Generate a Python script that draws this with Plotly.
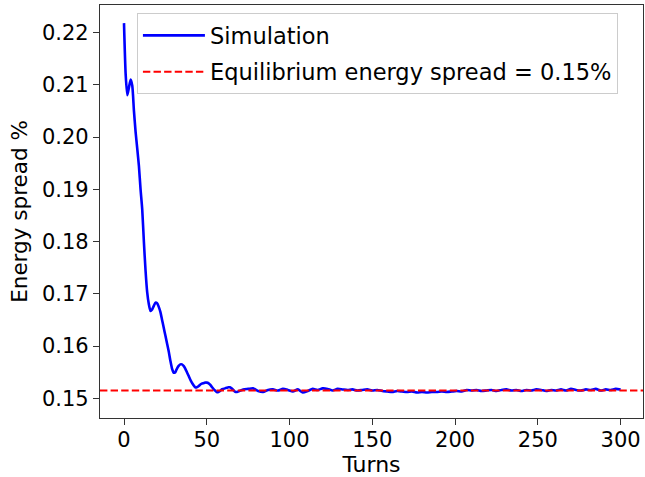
import plotly.graph_objects as go

# Simulation data (turns, energy spread %)
turns = [0, 1, 2, 3, 4, 5, 6, 7, 8, 9, 10, 11, 12, 13, 14, 15, 16, 17, 18, 19, 20,
         21, 22, 23, 24, 25, 26, 27, 28, 29, 30, 31, 32, 33, 34, 35, 36, 37, 38, 39, 40,
         41, 42, 43, 44, 45, 46, 47, 48, 49, 50, 51, 52, 53, 54, 55, 56, 57, 58, 59, 60,
         61, 62, 63, 64, 65, 66, 67, 68,
         69, 72, 75, 78, 81, 84, 87, 90, 93, 96, 99, 102, 105, 108, 111, 114, 117, 120,
         123, 126, 129, 132, 135, 138, 141, 144, 147, 150, 153, 156, 159, 162, 165, 168,
         171, 174, 177, 180, 183, 186, 189, 192, 195, 198, 201, 204, 207, 210, 213, 216,
         219, 222, 225, 228, 231, 234, 237, 240, 243, 246, 249, 252, 255, 258, 261, 264,
         267, 270, 273, 276, 279, 282, 285, 288, 291, 294, 297, 300]
spread = [0.2218, 0.2120, 0.2080, 0.2095, 0.2110, 0.2098, 0.2050, 0.2010, 0.1978, 0.1945, 0.1900,
          0.1862, 0.1800, 0.1745, 0.1703, 0.1680, 0.1667, 0.1670, 0.1677, 0.1683, 0.1682,
          0.1675, 0.1665, 0.1650, 0.1635, 0.1620, 0.1605, 0.1590, 0.1572, 0.1557, 0.1549,
          0.1550, 0.1557, 0.1562, 0.1565, 0.1565, 0.1562, 0.1557, 0.1550, 0.1543, 0.1536,
          0.1530, 0.1525, 0.1521, 0.1521, 0.1523, 0.1526, 0.1528, 0.1529, 0.1530, 0.1530,
          0.1529, 0.1526, 0.1522, 0.1518, 0.1515, 0.1512, 0.1512, 0.1514, 0.1517, 0.1518,
          0.1519, 0.1520, 0.1521, 0.1521, 0.1519, 0.1516, 0.1513, 0.1512,
          0.1513, 0.1517, 0.1518, 0.1519, 0.1514, 0.1512, 0.1516, 0.1517, 0.1515, 0.1518,
          0.1516, 0.1513, 0.1517, 0.1511, 0.1514, 0.1518, 0.1516, 0.1519, 0.1518, 0.1515,
          0.1518, 0.1517, 0.1516, 0.1517, 0.1515, 0.1516, 0.1517, 0.1515, 0.1516, 0.1514,
          0.1513, 0.1512, 0.1514, 0.1513, 0.1512, 0.1513, 0.1511, 0.1512, 0.1511, 0.1512,
          0.1512, 0.1513, 0.1512, 0.1513, 0.1514, 0.1513, 0.1516, 0.1515, 0.1516, 0.1514,
          0.1515, 0.1516, 0.1514, 0.1516, 0.1517, 0.1515, 0.1516, 0.1514, 0.1516, 0.1515,
          0.1517, 0.1516, 0.1514, 0.1516, 0.1515, 0.1517, 0.1515, 0.1518, 0.1516, 0.1515,
          0.1517, 0.1516, 0.1518, 0.1515, 0.1517, 0.1516, 0.1518, 0.1517]

equilibrium = 0.1515

x_ticks = [0, 50, 100, 150, 200, 250, 300]
y_ticks = [0.15, 0.16, 0.17, 0.18, 0.19, 0.20, 0.21, 0.22]
y_tick_labels = ["0.15", "0.16", "0.17", "0.18", "0.19", "0.20", "0.21", "0.22"]
x_range = [-14.5, 313.5]
y_range = [0.14623, 0.22527]

FONT = "DejaVu Sans"

fig = go.Figure()
fig.add_trace(go.Scatter(
    x=turns, y=spread, mode="lines", name="Simulation",
    line=dict(color="#0000ff", width=2.6, shape="spline", smoothing=0.6),
    legendgroup="a",
))
fig.add_trace(go.Scatter(
    x=[None], y=[None], mode="lines",
    name="Equilibrium energy spread = 0.15%",
    line=dict(color="#ff0000", width=2, dash="7.4px,3.2px"),
    legendgroup="b",
))
fig.add_hline(y=equilibrium, line=dict(color="#ff0000", width=2, dash="7.4px,3.2px"))

axis_common = dict(
    showgrid=False, zeroline=False, showline=True, linecolor="#333333", linewidth=1.2,
    mirror=True, ticks="outside", ticklen=6, tickwidth=1.2, tickcolor="#333333",
    tickfont=dict(family=FONT, size=21, color="black"),
)

fig.update_layout(
    width=645, height=477,
    margin=dict(l=100, r=2, t=5, b=59),
    paper_bgcolor="white", plot_bgcolor="white",
    font=dict(family=FONT, size=21, color="black"),
    showlegend=True,
    legend=dict(
        x=0.068, y=0.98, xanchor="left", yanchor="top",
        bgcolor="rgba(255,255,255,0.8)", bordercolor="#cccccc", borderwidth=1,
        font=dict(family=FONT, size=22.5, color="black"),
        tracegroupgap=4, itemwidth=62,
    ),
    xaxis=dict(
        range=x_range, tickvals=x_ticks, ticklabelstandoff=-3,
        title=dict(text="Turns", font=dict(family=FONT, size=22), standoff=6),
        **axis_common,
    ),
    yaxis=dict(
        range=y_range, tickvals=y_ticks, ticktext=y_tick_labels,
        title=dict(text="Energy spread %", font=dict(family=FONT, size=21.5), standoff=8),
        **axis_common,
    ),
)

fig.write_html("out.html")
